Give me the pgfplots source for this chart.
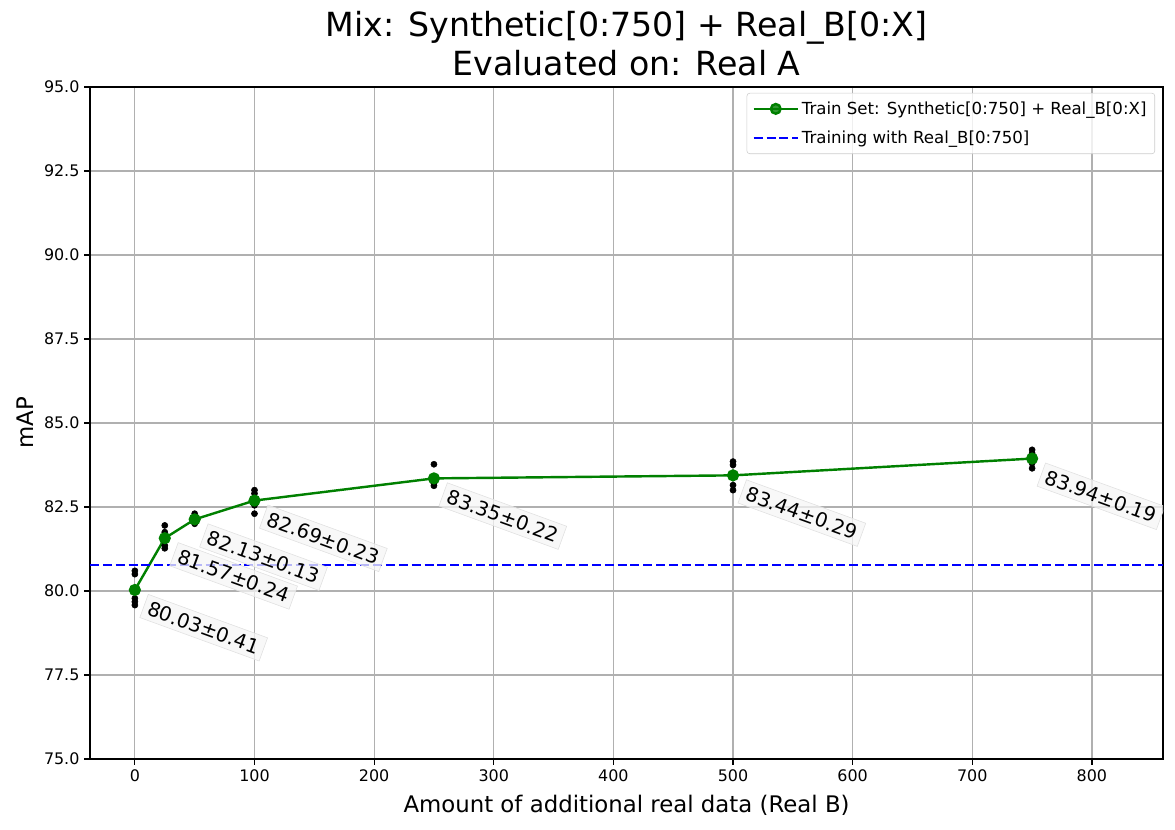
\documentclass[border=0pt]{standalone}
\usepackage{pgfplots}
\pgfplotsset{compat=1.18}
\usepackage{fontspec}
\setmainfont{DejaVu Sans}

% individual runs for each amount of Real_B
\pgfplotstableread{
x y
0 80.60
0 80.50
0 79.78
0 79.68
0 79.58
25 81.95
25 81.75
25 81.55
25 81.35
25 81.27
50 82.30
50 82.20
50 82.10
50 82.05
50 82.00
100 83.00
100 82.90
100 82.70
100 82.55
100 82.30
250 83.77
250 83.35
250 83.30
250 83.20
250 83.13
500 83.85
500 83.75
500 83.45
500 83.15
500 83.00
750 84.20
750 84.10
750 83.95
750 83.80
750 83.65
}\runs

\pgfplotstableread{
x y
0 80.03
25 81.57
50 82.13
100 82.69
250 83.35
500 83.44
750 83.94
}\means

\definecolor{mplgreen}{HTML}{008000}
\definecolor{gridgray}{HTML}{B0B0B0}

\tikzset{ann/.style={font=\fontsize{14.3}{16}\selectfont, rotate=-20, anchor=north west,
  fill=black!4, fill opacity=0.75, text opacity=1, draw=black!12, inner sep=3.5pt,
  xshift=10pt, yshift=0.5pt}}

\begin{document}
\begin{tikzpicture}
\begin{axis}[
  scale only axis,
  width=775.5pt, height=485.7pt,
  xmin=-37.5, xmax=859.5,
  ymin=75, ymax=95,
  xtick={0,100,...,800},
  ytick={75,77.5,...,95},
  yticklabel style={/pgf/number format/fixed, /pgf/number format/fixed zerofill, /pgf/number format/precision=1},
  /pgf/number format/assume math mode=true,
  tick label style={font=\fontsize{11.5}{13}\selectfont},
  tick align=outside,
  major tick length=4.1pt,
  tick style={black, line width=0.9pt},
  xtick pos=bottom, ytick pos=left,
  grid=major,
  major grid style={gridgray, line width=0.9pt},
  axis line style={line width=0.9pt},
  title={Mix: Synthetic[0:750] + Real\_B[0:X]\\Evaluated on: Real A},
  title style={font=\fontsize{24}{28}\selectfont, align=center,
    at={(axis description cs:0.5,1.052)}, anchor=center},
  xlabel={Amount of additional real data (Real B)},
  ylabel={mAP},
  label style={font=\fontsize{16.5}{19}\selectfont},
  xlabel style={at={(axis description cs:0.5,-0.0685)}, anchor=center},
  ylabel style={at={(axis description cs:-0.0606,0.5)}, anchor=center},
  legend cell align=left,
  legend image code/.code={\draw[mark repeat=2, mark phase=2] plot coordinates {(0cm,0cm) (0.56cm,0cm) (1.12cm,0cm)};},
  legend style={at={(0.9925,0.991)}, anchor=north east, font=\fontsize{12}{14}\selectfont,
    draw=black!20, rounded corners=2pt, fill=white, fill opacity=0.8, text opacity=1,
    row sep=6.5pt, inner sep=4pt},
]
\addplot[only marks, mark=*, mark size=2.2pt, black, forget plot] table {\runs};
\addplot[mplgreen, line width=1.75pt, mark=*, mark size=3.5pt, mark options={solid, fill=mplgreen}] table {\means};
\addlegendentry{Train Set: Synthetic[0:750] + Real\_B[0:X]}
\addplot[blue, line width=1.75pt, dash pattern=on 6.5pt off 2.8pt] coordinates {(-37.5,80.77) (859.5,80.77)};
\addlegendentry{Training with Real\_B[0:750]}

\node[ann] at (axis cs:0,80.03) {80.03±0.41};
\node[ann] at (axis cs:25,81.57) {81.57±0.24};
\node[ann] at (axis cs:50,82.13) {82.13±0.13};
\node[ann] at (axis cs:100,82.69) {82.69±0.23};
\node[ann] at (axis cs:250,83.35) {83.35±0.22};
\node[ann] at (axis cs:500,83.44) {83.44±0.29};
\node[ann] at (axis cs:750,83.94) {83.94±0.19};
\end{axis}
\pgfresetboundingbox
\path (-65.04pt,-51.3pt) rectangle (784.1pt,548.5pt);
\end{tikzpicture}
\end{document}
